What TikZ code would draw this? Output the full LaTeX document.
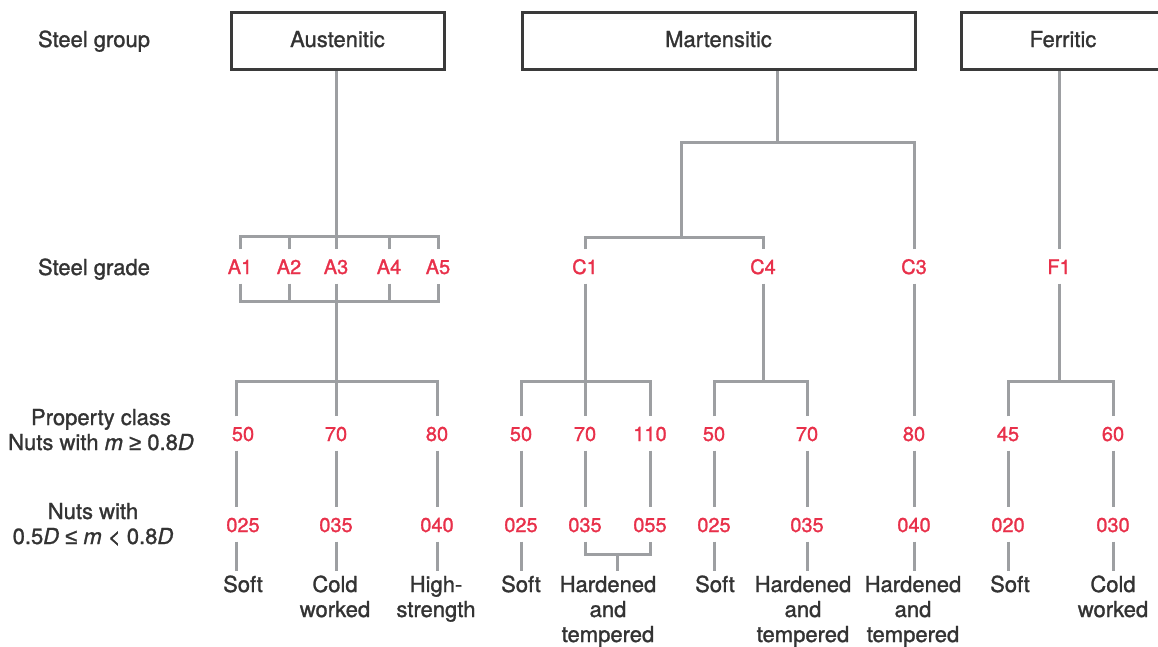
\documentclass[tikz,border=0pt]{standalone}
\usepackage{fontspec}
\setmainfont{TeX Gyre Heros}[FakeBold=1.3]
\newfontfamily\symfont{Liberation Sans}[FakeBold=1.3]

\definecolor{ink}{HTML}{333333}
\definecolor{boxline}{HTML}{3A3A3A}
\definecolor{linegray}{HTML}{9D9FA2}
\definecolor{grade}{HTML}{E8304A}

% stacked lines whose baseline is the first line
\newcommand\cellstack[1]{\begin{tabular}[t]{@{}c@{}}#1\end{tabular}}

\begin{document}
\begin{tikzpicture}[x=1pt,y=-1pt,
  conn/.style={draw=linegray, line width=3pt},
  groupbox/.style={draw=boxline, line width=3pt, inner sep=0pt, text=ink,
    font=\fontsize{22}{25}\selectfont, text height=16pt, text depth=4pt,
    minimum height=57pt},
  lbl/.style={anchor=base, inner sep=0pt, text=ink, font=\fontsize{22}{25}\selectfont},
  outcome/.style={lbl, text height=21pt},
  code/.style={anchor=base, inner sep=0pt, text=grade,
    font=\fontsize{20}{24}\selectfont, text height=24.5pt, text depth=9.5pt}]

\useasboundingbox (0,0) rectangle (1158,646);
\clip (0,0) rectangle (1158,646);

% helper levels
\coordinate (yG) at (0,236.5);
\coordinate (yB) at (0,301);
\coordinate (yP) at (0,381);

% row captions
\node[lbl] (lgroup) at (94,47) {Steel group};
\node[lbl] (lgrade) at (94,275) {Steel grade};
\node[lbl] (lclass) at (101,425) {\cellstack{Property class\\Nuts with \textit{m} {\symfont≥} 0.8\textit{D}}};
\node[lbl] (lthin) at (93,519) {\cellstack{Nuts with\\0.5\textit{D} {\symfont≤} \textit{m} < 0.8\textit{D}}};

% steel groups
\node[groupbox, minimum width=213pt] (aus) at (337.5,41) {Austenitic};
\node[groupbox, minimum width=393pt] (mar) at (718.5,41) {Martensitic};
\node[groupbox, minimum width=204pt] (fer) at (1063,41) {Ferritic};

% steel grades
\node[code] (A1) at (240,274) {A1};
\node[code] (A2) at (289,274) {A2};
\node[code] (A3) at (336,274) {A3};
\node[code] (A4) at (389,274) {A4};
\node[code] (A5) at (438,274) {A5};
\node[code] (C1) at (585,274) {C1};
\node[code] (C4) at (763,274) {C4};
\node[code] (C3) at (914,274) {C3};
\node[code] (F1) at (1059,274) {F1};

% property classes, m >= 0.8D
\node[code] (a50) at (243,441) {50};
\node[code] (a70) at (336,441) {70};
\node[code] (a80) at (437,441) {80};
\node[code] (m50) at (521,441) {50};
\node[code] (m70) at (585,441) {70};
\node[code] (m110) at (650,441) {110};
\node[code] (k50) at (714,441) {50};
\node[code] (k70) at (807,441) {70};
\node[code] (c80) at (914,441) {80};
\node[code] (f45) at (1008,441) {45};
\node[code] (f60) at (1113,441) {60};

% property classes, 0.5D <= m < 0.8D
\node[code] (a025) at (243,532) {025};
\node[code] (a035) at (336,532) {035};
\node[code] (a040) at (437,532) {040};
\node[code] (m025) at (521,532) {025};
\node[code] (m035) at (585,532) {035};
\node[code] (m055) at (650,532) {055};
\node[code] (k025) at (714,532) {025};
\node[code] (k035) at (807,532) {035};
\node[code] (c040) at (914,532) {040};
\node[code] (f020) at (1008,532) {020};
\node[code] (f030) at (1113,532) {030};

% conditions
\node[outcome] (tA1) at (243,592) {Soft};
\node[outcome] (tA2) at (335,592) {\cellstack{Cold\\worked}};
\node[outcome] (tA3) at (436,592) {\cellstack{High-\\strength}};
\node[outcome] (tM1) at (521,592) {Soft};
\node[outcome] (tM2) at (608,592) {\cellstack{Hardened\\and\\tempered}};
\node[outcome] (tK1) at (715,592) {Soft};
\node[outcome] (tK2) at (803,592) {\cellstack{Hardened\\and\\tempered}};
\node[outcome] (tC3) at (913,592) {\cellstack{Hardened\\and\\tempered}};
\node[outcome] (tF1) at (1010,592) {Soft};
\node[outcome] (tF2) at (1113,592) {\cellstack{Cold\\worked}};

% --- austenitic branch
\draw[conn] (aus.south -| A3.north) -- (A3.north);
\draw[conn] (A1.north) |- (A3.north |- yG) -| (A5.north);
\draw[conn] (A2.north) -- (A2.north |- yG);
\draw[conn] (A4.north) -- (A4.north |- yG);
\draw[conn] (A1.south) |- (A3.south |- yB) -| (A5.south);
\draw[conn] (A2.south) -- (A2.south |- yB);
\draw[conn] (A4.south) -- (A4.south |- yB);
\draw[conn] (A3.south) -- (a70.north);
\draw[conn] ([xshift=-7pt]a50.north) |- (a70.north |- yP) -| (a80.north);
\draw[conn] ([xshift=-7pt]a50.south) -- ([xshift=-7pt]a025.north);
\draw[conn] (a70.south) -- (a035.north);
\draw[conn] (a80.south) -- (a040.north);
\draw[conn] ([xshift=-7pt]a025.south) -- ([xshift=-7pt]a025.south |- tA1.north);
\draw[conn] (a035.south) -- (a035.south |- tA2.north);
\draw[conn] (a040.south) -- (a040.south |- tA3.north);

% --- martensitic branch
\coordinate (mj) at (777,142);
\coordinate (cj) at (681,237);
\draw[conn] (mar.south -| mj) -- (mj);
\draw[conn] (C3.north) |- (cj |- mj) -- (cj);
\draw[conn] (C1.north) |- (cj) -| (C4.north);

\draw[conn] (C1.south) -- (m70.north);
\draw[conn] (m50.north) |- (C1.south |- yP) -| (m110.north);
\draw[conn] (m50.south) -- (m025.north);
\draw[conn] (m70.south) -- (m035.north);
\draw[conn] (m110.south) -- (m055.north);
\draw[conn] (m025.south) -- (m025.south |- tM1.north);
\coordinate (hj) at (617.5,554);
\draw[conn] (m035.south) |- (hj) -| (m055.south);
\draw[conn] (hj) -- (hj |- tM2.north);

\draw[conn] (C4.south) -- (C4.south |- yP);
\draw[conn] (k50.north) |- (C4.south |- yP) -| (k70.north);
\draw[conn] (k50.south) -- (k025.north);
\draw[conn] (k70.south) -- (k035.north);
\draw[conn] (k025.south) -- (k025.south |- tK1.north);
\draw[conn] (k035.south) -- (k035.south |- tK2.north);

\draw[conn] (C3.south) -- (c80.north);
\draw[conn] (c80.south) -- (c040.north);
\draw[conn] (c040.south) -- (c040.south |- tC3.north);

% --- ferritic branch
\draw[conn] (fer.south -| F1.north) -- (F1.north);
\draw[conn] (F1.south) -- (F1.south |- yP);
\draw[conn] (f45.north) |- (F1.south |- yP) -| (f60.north);
\draw[conn] (f45.south) -- (f020.north);
\draw[conn] (f60.south) -- (f030.north);
\draw[conn] (f020.south) -- (f020.south |- tF1.north);
\draw[conn] (f030.south) -- (f030.south |- tF2.north);
\end{tikzpicture}
\end{document}
